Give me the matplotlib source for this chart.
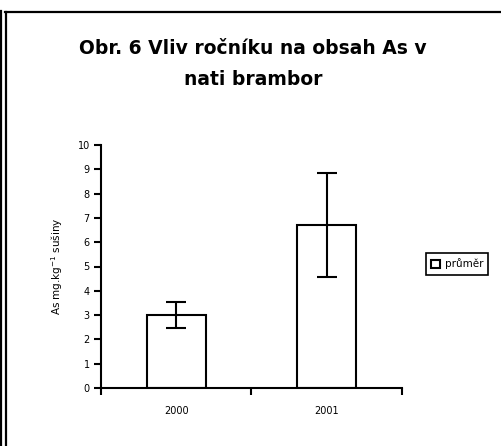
import matplotlib
matplotlib.use("Agg")
import matplotlib.pyplot as plt
from matplotlib.lines import Line2D

# data
years = ["2000", "2001"]
prumer = [3.0, 6.7]
chyba = [0.53, 2.13]
title = "Obr. 6 Vliv ročníku na obsah As v\nnati brambor"
ylabel = "As mg.kg$^{-1}$ sušiny"
legend_label = "průměr"

plt.rcParams['font.family'] = ['DejaVu Sans']

W, H = 502, 446
fig = plt.figure(figsize=(W / 100, H / 100), dpi=100)
ax = fig.add_axes([101 / W, 1 - 388 / H, 301 / W, 243 / H])

x = list(range(len(years)))
ax.bar(x, prumer, width=0.39, color="white", edgecolor="black", linewidth=1.5,
       label=legend_label, zorder=2)
ax.errorbar(x, prumer, yerr=chyba, fmt="none", ecolor="black", elinewidth=1.5,
            capsize=7, capthick=1.5, zorder=3)

ax.set_xlim(-0.5, len(years) - 0.5)
ax.set_ylim(0, 10)
ax.set_yticks(range(0, 11))
ax.set_xticks(x)
ax.set_xticklabels(years, fontsize=7)
ax.set_xticks([i - 0.5 for i in range(len(years) + 1)], minor=True)
ax.tick_params(axis="x", which="major", length=0, pad=13)
ax.tick_params(axis="x", which="minor", length=5, width=1.5)
ax.tick_params(axis="y", length=5, width=1.5, labelsize=7, pad=3)

for s in ("top", "right"):
    ax.spines[s].set_visible(False)
for s in ("left", "bottom"):
    ax.spines[s].set_linewidth(1.5)

ax.set_ylabel(ylabel, fontsize=7.5, labelpad=9)

fig.text(253 / W, 1 - 64 / H, title, ha="center", va="center",
         fontsize=13.5, fontweight="bold", linespacing=1.8)

leg = fig.legend(loc="center", bbox_to_anchor=(457 / W, 1 - 264 / H),
                 fontsize=7.5, frameon=True, fancybox=False, framealpha=1,
                 handlelength=0.9, handleheight=0.9, handletextpad=0.4,
                 borderpad=0.5)
leg.get_frame().set_edgecolor("black")
leg.get_frame().set_linewidth(1.2)

# outer frame lines of the original sheet
lw = 1.6
fig.add_artist(Line2D([1.5 / W, 1.5 / W], [0, 1 - 11 / H], color="black", lw=lw,
                      transform=fig.transFigure))
fig.add_artist(Line2D([6 / W, 6 / W], [0, 1 - 11.5 / H], color="black", lw=lw,
                      transform=fig.transFigure))
fig.add_artist(Line2D([5 / W, 1], [1 - 11.5 / H, 1 - 11.5 / H], color="black", lw=lw,
                      transform=fig.transFigure))

fig.savefig("out.png", dpi=100)
